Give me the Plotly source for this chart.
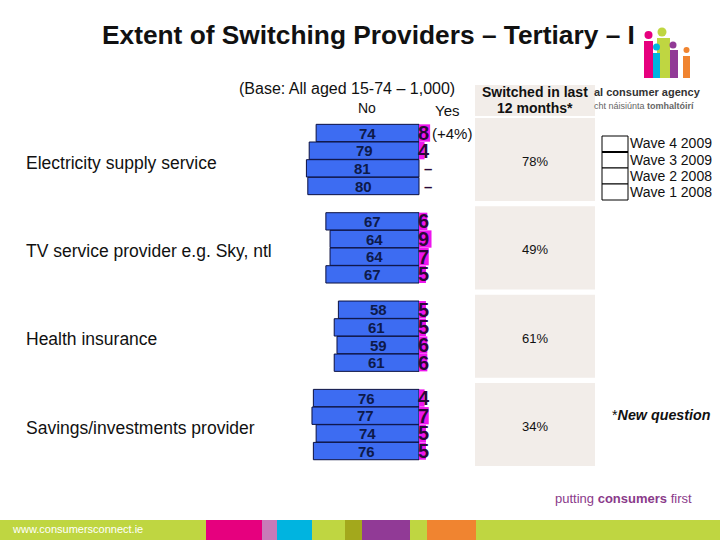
import plotly.graph_objects as go

# ---------------- data ----------------
categories = ["Electricity supply service", "TV service provider e.g. Sky, ntl",
              "Health insurance", "Savings/investments provider"]
waves = ["Wave 4 2009", "Wave 3 2009", "Wave 2 2008", "Wave 1 2008"]
no_w4 = [74, 67, 58, 76]
no_w3 = [79, 64, 61, 77]
no_w2 = [81, 64, 59, 74]
no_w1 = [80, 67, 61, 76]
yes_w4 = [8, 6, 5, 4]
yes_w3 = [4, 9, 5, 7]
yes_w2 = [None, 7, 6, 5]
yes_w1 = [None, 5, 6, 5]
switched_pct = ["78%", "49%", "61%", "34%"]
electricity_note = "(+4%)"

# ---------------- build rows ----------------
no_by_wave = [no_w4, no_w3, no_w2, no_w1]
yes_by_wave = [yes_w4, yes_w3, yes_w2, yes_w1]
pos, no_vals, yes_vals = [], [], []
for g in range(len(categories)):
    for w in range(len(waves)):
        pos.append(g * 5 + w)
        no_vals.append(no_by_wave[w][g])
        yes_vals.append(yes_by_wave[w][g])

BLUE = "#3d6cf2"
MAG = "#ee14ee"
EDGE = "#0b1040"
FONT = "Liberation Sans, Arial, sans-serif"

fig = go.Figure()
fig.add_trace(go.Bar(
    orientation="h", y=pos, x=[-v for v in no_vals], base=0,
    marker=dict(color=BLUE, line=dict(color=EDGE, width=1)),
    width=0.98, textposition="none",
    hoverinfo="skip", showlegend=False))
fig.add_trace(go.Bar(
    orientation="h", y=pos, x=[v if v is not None else 0 for v in yes_vals], base=0,
    marker=dict(color=MAG, line=dict(width=0)),
    width=0.98, textposition="none", hoverinfo="skip", showlegend=False))

ann = []
# No labels centred in the blue bars
for p, v in zip(pos, no_vals):
    ann.append(dict(x=-v / 2, y=p, xref="x", yref="y", xanchor="center", yanchor="middle",
                    text=str(v), showarrow=False,
                    font=dict(family=FONT, size=15, color="#0d1a4a", weight="bold")))
# Yes numbers / dashes
for p, v in zip(pos, yes_vals):
    if v is not None:
        ann.append(dict(x=0, y=p, xref="x", yref="y", xanchor="left", yanchor="middle",
                        text=str(v), showarrow=False, xshift=-3,
                        font=dict(family=FONT, size=20, color="#2a0838", weight="bold")))
    else:
        ann.append(dict(x=0, y=p, xref="x", yref="y", xanchor="left", yanchor="middle",
                        text="–", showarrow=False, xshift=3,
                        font=dict(family=FONT, size=15, color="#2a0838", weight="bold")))
ann.append(dict(x=8, y=0, xref="x", yref="y", xanchor="left", yanchor="middle",
                text=electricity_note, showarrow=False, xshift=0,
                font=dict(family=FONT, size=15, color="#111")))

# Category labels and switched values
for g, (c, s) in enumerate(zip(categories, switched_pct)):
    ann.append(dict(x=24 / 720, y=g * 5 + 1.5, xref="paper", yref="y", xanchor="left",
                    yanchor="middle", text=c, showarrow=False, yshift=-3,
                    font=dict(family=FONT, size=17.5, color="#111")))
    ann.append(dict(x=535 / 720, y=g * 5 + 1.5, xref="paper", yref="y", xanchor="center",
                    yanchor="middle", text=s, showarrow=False, yshift=-2,
                    font=dict(family=FONT, size=13, color="#111")))

def ptext(x, y, t, size, anchor="left", color="#111", bold=False, italic=False):
    ann.append(dict(x=x / 720, y=1 - y / 540, xref="paper", yref="paper",
                    xanchor=anchor, yanchor="middle", text=t, showarrow=False,
                    font=dict(family=FONT, size=size, color=color,
                              weight="bold" if bold else "normal",
                              style="italic" if italic else "normal")))

ptext(100, 35, "Extent of Switching Providers – Tertiary – I", 26.3, bold=True)
ptext(237, 88, "(Base: All aged 15-74 – 1,000)", 16)
ptext(356, 108, "No", 14)
ptext(433, 110, "Yes", 15)
ptext(535, 92, "Switched in last", 14, anchor="center", bold=True)
ptext(535, 108, "12 months*", 14, anchor="center", bold=True)
ptext(610, 415, "*<i><b>New question</b></i>", 14.3)
ptext(592, 92, "<b>al consumer agency</b>", 11, color="#333")
ptext(592, 106, "cht náisiúnta <b>tomhaltóirí</b>", 9, color="#666")
ptext(694, 498, "putting <b>consumers</b> first", 13, anchor="right", color="#8a3a8a")
ptext(10, 529, "www.consumersconnect.ie", 11, color="#ffffff")

# Legend labels
leg_y = [143, 160, 176, 192]
for wv, ly in zip(waves, leg_y):
    ptext(628, ly, wv, 14)

shapes = []
def prect(x0, y0, x1, y1, fill, line=None, lw=0, layer="below"):
    shapes.append(dict(type="rect", xref="paper", yref="paper",
                       x0=x0 / 720, x1=x1 / 720, y0=1 - y0 / 540, y1=1 - y1 / 540,
                       fillcolor=fill, line=dict(color=line or fill, width=lw), layer=layer))

GREY = "#f2ede9"
# switched column
prect(475, 85, 595, 116, GREY)
for g in range(len(categories)):
    shapes.append(dict(type="rect", xref="paper", yref="y", x0=475 / 720, x1=595 / 720,
                       y0=g * 5 - 0.85, y1=g * 5 + 3.85, fillcolor=GREY,
                       line=dict(width=0), layer="below"))
# legend boxes
box_edges = [136, 152, 168, 184, 200]
for i in range(4):
    prect(602, box_edges[i], 628, box_edges[i + 1], "#ffffff", "#000000", 1, "above")
shapes.append(dict(type="line", xref="paper", yref="paper", x0=602 / 720, x1=628 / 720,
                   y0=1 - 152 / 540, y1=1 - 152 / 540, line=dict(color="#000", width=2)))

# footer band and blocks
prect(0, 520, 720, 540, "#bfd641")
for x0, x1, col in [(206, 262, "#e6007e"), (262, 277, "#c87ab8"), (277, 312, "#00b4e0"),
                    (345, 362, "#a3a81c"), (362, 410, "#913a96"), (427, 476, "#f08430")]:
    prect(x0, 520, x1, 540, col)

# logo figures
for x0, x1, top, bot, col in [(644, 653, 41, 78, "#e6007e"), (657, 670, 38, 78, "#bfd641"),
                              (653, 660, 53, 78, "#00b4e0"), (670, 678, 50, 78, "#913a96"),
                              (683, 690, 56, 78, "#f08430")]:
    prect(x0, top, x1, bot, col, layer="above")
for cx, cy, r, col in [(648.5, 35, 4, "#e6007e"), (662, 32, 4.5, "#bfd641"),
                       (656.5, 47, 3.5, "#00b4e0"), (673, 45, 3.5, "#913a96"),
                       (686.5, 50, 3, "#f08430")]:
    shapes.append(dict(type="circle", xref="paper", yref="paper",
                       x0=(cx - r) / 720, x1=(cx + r) / 720,
                       y0=1 - (cy + r) / 540, y1=1 - (cy - r) / 540,
                       fillcolor=col, line=dict(width=0)))

PX = 1.39
fig.update_layout(
    width=720, height=540, margin=dict(l=0, r=0, t=0, b=0),
    paper_bgcolor="white", plot_bgcolor="rgba(0,0,0,0)",
    barmode="overlay", showlegend=False,
    xaxis=dict(range=[-419 / PX, 301 / PX], domain=[0, 1], visible=False, fixedrange=True),
    yaxis=dict(range=[(540 - 133) / 17.67, -133 / 17.67], domain=[0, 1], visible=False,
               fixedrange=True),
    annotations=ann, shapes=shapes, font=dict(family=FONT))

fig.write_html("out.html", config={"displayModeBar": False},
               post_script="document.body.style.margin='0';document.body.style.overflow='hidden';")
